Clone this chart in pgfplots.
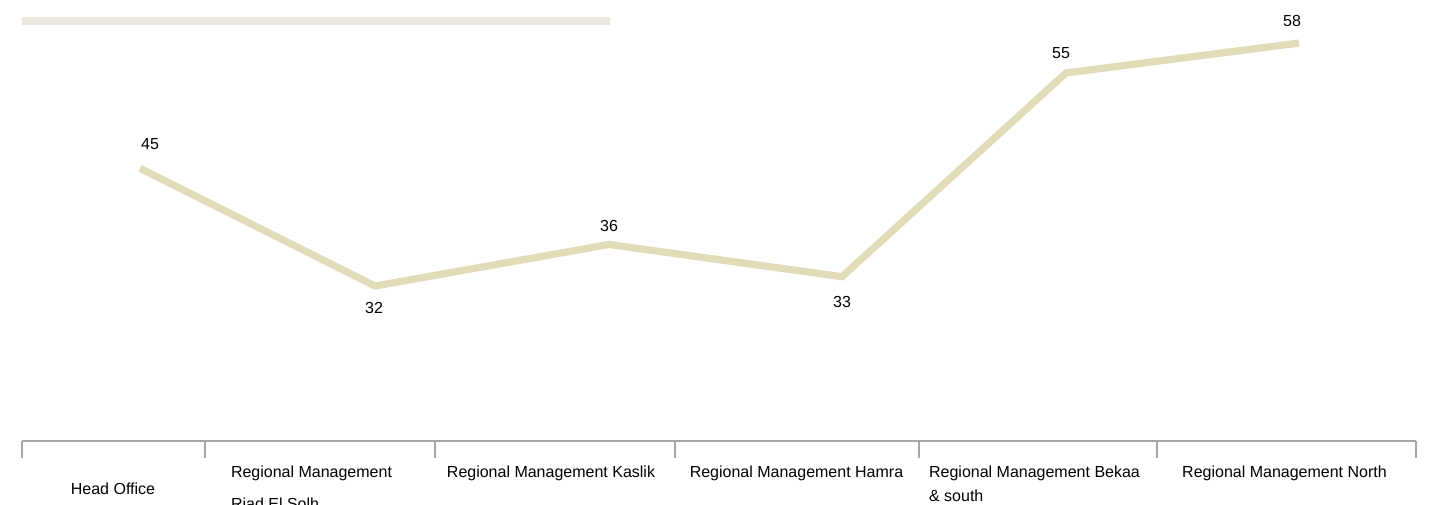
\documentclass[border=0pt]{standalone}
\usepackage{fontspec}
\setmainfont{Liberation Sans}
\usepackage{pgfplots}
\pgfplotsset{compat=1.18}
\definecolor{linebeige}{HTML}{E1DCB7}
\definecolor{barbeige}{HTML}{EBE7DD}
\definecolor{axisgray}{HTML}{A6A6A6}
\begin{document}
\fontsize{12}{19.5}\selectfont
\begin{tikzpicture}[font=\fontsize{12}{19.5}\selectfont]
\path[use as bounding box] (0pt,0pt) rectangle (1075.5pt,-378.75pt);
\fill[barbeige] (16.5pt,-12.75pt) rectangle (457.5pt,-18.75pt);
\begin{axis}[
  at={(16.5pt,-330.75pt)}, anchor=south west,
  x=0.75pt, y=7.0095pt,
  xmin=22, xmax=1416, ymin=15.42, ymax=62.6,
  enlargelimits=false, clip=false,
  axis x line*=bottom, axis y line=none,
  x axis line style={-, draw=axisgray, line width=1.5pt},
  xtick={22,205,435,675,919,1157,1416},
  xticklabels={},
  tick align=outside,
  major tick length=12.75pt,
  x tick style={draw=axisgray, line width=1.5pt},
  ytick=\empty,
  extra x ticks={113,311.5,551,796.5,1034.5,1284.5},
  extra x tick labels={{\rule{0pt}{21.5pt}Head Office},{Regional Management\\[4.5pt]Riad El Solh},{Regional Management Kaslik},{Regional Management Hamra},{Regional Management Bekaa\\[-1.5pt]\& south},{Regional Management North}},
  extra x tick style={major tick length=0pt, x tick style={draw=none},
    xticklabel style={anchor=north, align=left, inner sep=0pt, yshift=-18.2pt, text=black}},
  visualization depends on={value \thisrow{dx} \as \dx},
  visualization depends on={value \thisrow{dy} \as \dy},
  nodes near coords,
  point meta=explicit symbolic,
  every node near coord/.append style={anchor=center, inner sep=0pt, xshift={\dx*1pt}, yshift={\dy*1pt}, text=black},
]
\addplot[linebeige, line width=5.4pt, mark=none] table[x=x, y=y, meta=lab] {
x     y      lab  dx     dy
140   44.6   45   7.5    18
375   32.0   32   -0.75  -16.5
609   36.45  36   0      13.5
842   33.0   33   0      -18.75
1066  54.8   55   -3.75  14.8
1299  58.0   58   -5.25  16.5
};
\end{axis}
\end{tikzpicture}
\end{document}
